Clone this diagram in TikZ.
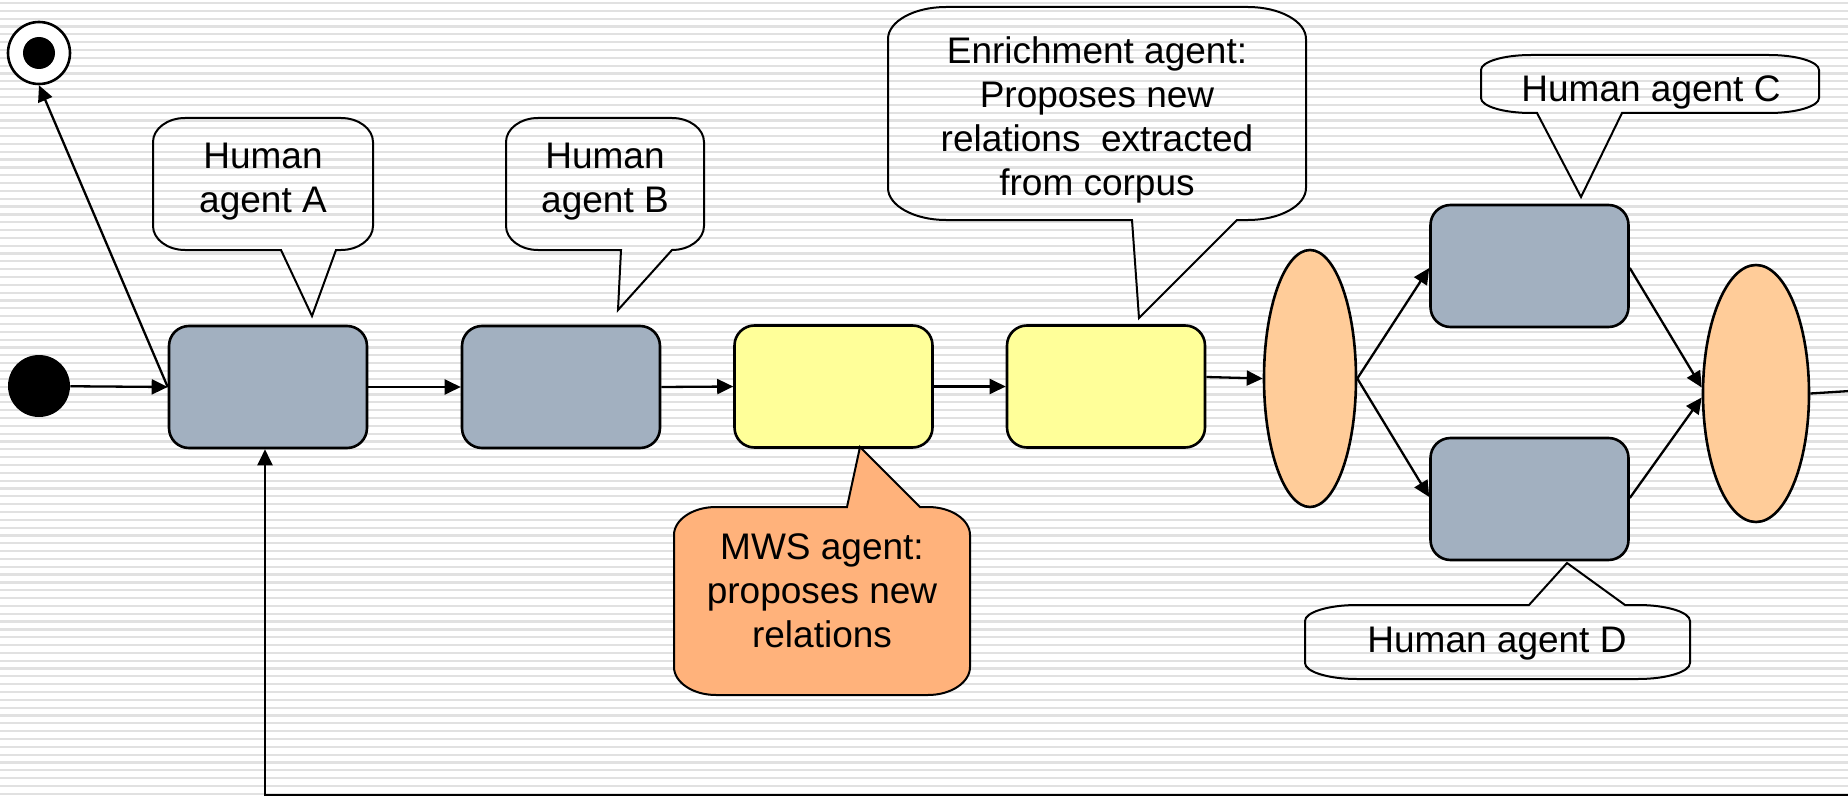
\documentclass[tikz,border=0pt]{standalone}
\usepackage{fontspec}
\setmainfont{Liberation Sans}
\usetikzlibrary{arrows.meta,shapes.geometric,calc}

\definecolor{boxgray}{RGB}{162,176,192}
\definecolor{boxyellow}{RGB}{255,255,153}
\definecolor{forkpeach}{RGB}{255,204,153}
\definecolor{mwsorange}{RGB}{255,178,123}
\definecolor{stripe}{RGB}{225,225,225}

% speech balloon, pointer on the lower edge:
% left, top, right, bottom, corner x radius, corner y radius, pointer base left x, base right x, tip
\newcommand\balloonDown[9]{%
  \path[bubble] (#7,#4) -- #9 -- (#8,#4) -- ({#3-#5},#4)
    .. controls ({#3-0.45*#5},#4) and (#3,{#4-0.45*#6}) .. (#3,{#4-#6})
    -- (#3,{#2+#6})
    .. controls (#3,{#2+0.45*#6}) and ({#3-0.45*#5},#2) .. ({#3-#5},#2)
    -- ({#1+#5},#2)
    .. controls ({#1+0.45*#5},#2) and (#1,{#2+0.45*#6}) .. (#1,{#2+#6})
    -- (#1,{#4-#6})
    .. controls (#1,{#4-0.45*#6}) and ({#1+0.45*#5},#4) .. ({#1+#5},#4)
    -- cycle;}

% speech balloon, pointer on the upper edge (same arguments)
\newcommand\balloonUp[9]{%
  \path[bubble] (#8,#2) -- #9 -- (#7,#2) -- ({#1+#5},#2)
    .. controls ({#1+0.45*#5},#2) and (#1,{#2+0.45*#6}) .. (#1,{#2+#6})
    -- (#1,{#4-#6})
    .. controls (#1,{#4-0.45*#6}) and ({#1+0.45*#5},#4) .. ({#1+#5},#4)
    -- ({#3-#5},#4)
    .. controls ({#3-0.45*#5},#4) and (#3,{#4-0.45*#6}) .. (#3,{#4-#6})
    -- (#3,{#2+#6})
    .. controls (#3,{#2+0.45*#6}) and ({#3-0.45*#5},#2) .. ({#3-#5},#2)
    -- cycle;}

\begin{document}
\begin{tikzpicture}[x=0.5pt,y=-0.5pt,
  flow/.style={line width=1.15pt,-{Triangle[length=8pt,width=7.5pt]}},
  link/.style={line width=1.15pt},
  task/.style={draw,line width=1.3pt,rounded corners=10pt,minimum width=99pt,
               minimum height=61pt,inner sep=0pt},
  human/.style={task,fill=boxgray},
  auto agent/.style={task,fill=boxyellow},
  fork/.style={ellipse,draw,line width=1.3pt,fill=forkpeach,inner sep=0pt,
               minimum height=128.5pt},
  bubble/.style={draw,line width=1pt,line join=miter},
  note/.style={font=\fontsize{18.5}{22}\selectfont,align=center,inner sep=0pt},
  stripe line/.style={draw=stripe,line width=1.1pt}]

\useasboundingbox (0,0) rectangle (1848,797);
\clip (0,0) rectangle (1848,797);

% striped backdrop
\fill[white] (0,0) rectangle (1848,797);
\foreach \k in {0,...,101}
  \draw[stripe line] (0,{3+7.83*\k}) -- (1848,{3+7.83*\k});

% initial and final states
\node[circle,fill=black,minimum size=31pt,inner sep=0pt] (start) at (39,386) {};
\node[circle,draw,line width=1.3pt,fill=white,minimum size=31pt,inner sep=0pt,
      path picture={\fill[black] (path picture bounding box.center) circle (8pt);}]
      (final) at (39,53) {};

% activities
\node[human] (a) at (268,387) {};
\node[human] (b) at (561,387) {};
\node[auto agent] (mws) at (833.5,386.5) {};
\node[auto agent] (enrich) at (1106,386.5) {};
\node[human] (c) at (1529.5,266) {};
\node[human] (d) at (1529.5,499) {};

% fork and join
\node[fork,minimum width=46pt] (split) at (1310,378.5) {};
\node[fork,minimum width=53pt] (join) at (1756,393.5) {};

% flow
\coordinate (exitR) at (1850,391);
\coordinate (loopR) at (1850,795);
\draw[flow] (start) -- (a.west);
\draw[flow] (a.west) -- (final.south);
\draw[flow] (a.east) -- (b.west);
\draw[flow] (b.east) -- (mws.west);
\draw[flow] (mws.east) -- (enrich.west);
\draw[flow] ($(enrich.east)+(0,-9.5)$) -- (split.west);
\draw[flow] (split.east) -- ($(c.west)+(0,2)$);
\draw[flow] (split.east) -- ($(d.west)+(0,-2)$);
\draw[flow] ($(c.east)+(0,2)$) -- ($(join.west)+(0,-6)$);
\draw[flow] ($(d.east)+(0,-1)$) -- ($(join.west)+(0,4)$);
\draw[link] (join.east) -- (exitR);
\draw[flow] (loopR) -| ($(a.south)+(-3,0)$);

% balloons naming the agents
\balloonDown{153}{118}{373}{250}{32}{24}{281}{336}{(312,316)}
\node[note] (tA) at (263,182) {Human\\agent A};

\balloonDown{506}{118}{704}{250}{32}{24}{621}{672}{(618,310)}
\node[note] (tB) at (605,182) {Human\\agent B};

\balloonDown{888}{7}{1306}{220}{58}{32}{1132}{1237}{(1139,318)}
\node[note] (tEnrich) at (1097,120) {Enrichment agent:\\Proposes new\\relations\ \ extracted\\from corpus};

\balloonDown{1481}{55}{1819}{113}{50}{15}{1537}{1622}{(1581,197)}
\node[note] (tC) at (1651,92.5) {Human agent C};

\balloonUp{1305}{605}{1690}{679}{52}{16}{1529}{1625}{(1567,563)}
\node[note] (tD) at (1497,643.5) {Human agent D};

\begin{scope}[bubble/.append style={fill=mwsorange}]
\balloonUp{674}{507}{970}{695}{42}{28}{847}{920}{(860,447)}
\end{scope}
\node[note] (tMWS) at (822,590.5) {MWS agent:\\proposes new\\relations};

\end{tikzpicture}
\end{document}
